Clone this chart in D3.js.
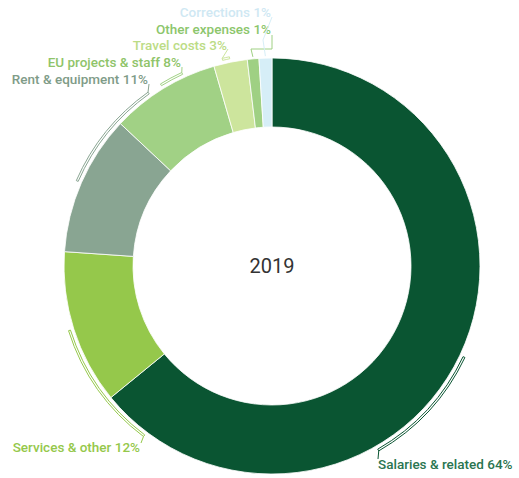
<!DOCTYPE html>
<html>
<head>
  <meta charset="UTF-8">
  <title>2019 budget donut</title>
  <script src="https://d3js.org/d3.v7.min.js"></script>
  <style>
    body { margin: 0; background: #fff; }
    svg text { font-family: Roboto, "Open Sans", sans-serif; }
  </style>
</head>
<body>
<svg id="chart"></svg>
<script>
  // data
  const categories = ["Salaries & related", "Services & other", "Rent & equipment",
                      "EU projects & staff", "Travel costs", "Other expenses", "Corrections"];
  const values = [64.1, 12.0, 10.9, 8.5, 2.6, 0.9, 1.0];
  const labelPct = ["64%", "12%", "11%", "8%", "3%", "1%", "1%"];
  const colors = ["#0a5532", "#95c84b", "#89a592", "#a1d185", "#cde59d", "#9fd083", "#d6eef7"];
  const textColors = ["#2a7550", "#95c84b", "#7f9c88", "#8fc46a", "#bcdc86", "#8cc66c", "#cfe8f3"];
  const yearLabel = "2019";

  // label layout (position of text end + where the bracket stops)
  const labelX = [378, 140, 148, 181, 227, 271, 271];
  const labelY = [464, 447, 79, 62, 45, 29, 12];
  const labelAnchor = ["start", "end", "end", "end", "end", "end", "end"];
  const bracketEnd = [150, 217, 324.5, 335, 346.5, null, null]; // degrees
  const leaderPts = [
    [[378, 459]],
    [[141, 443]],
    [[149, 84]],
    [[182, 67]],
    [[228, 49]],
    [[251, 49], [272, 49], [272, 35]],
    [[263, 40], [272, 17]]
  ];

  const width = 519, height = 478,
      cx = 272, cy = 266,
      outerR = 208, innerR = 139;

  const svg = d3.select("#chart")
      .attr("width", width)
      .attr("height", height);

  const g = svg.append("g").attr("transform", `translate(${cx},${cy})`);

  const pie = d3.pie().sort(null).value(d => d)(values);
  const arc = d3.arc().innerRadius(innerR).outerRadius(outerR);

  g.selectAll("path.slice")
    .data(pie)
    .enter()
    .append("path")
      .attr("class", "slice")
      .attr("d", arc)
      .attr("fill", (d, i) => colors[i])
      .attr("stroke", "#fff")
      .attr("stroke-width", 0.8);

  const rad = Math.PI / 180;
  const bandIn = outerR + 3.5, bandOut = outerR + 5.5;
  const pt = (a, r) => [r * Math.sin(a), -r * Math.cos(a)];

  pie.forEach((d, i) => {
    const mid = (d.startAngle + d.endAngle) / 2;
    const col = colors[i];
    let start;
    if (bracketEnd[i] != null) {
      const end = bracketEnd[i] * rad;
      // hollow bracket band from slice middle along the ring
      g.append("path")
        .attr("d", d3.arc().innerRadius(bandIn).outerRadius(bandOut)
          .startAngle(Math.min(mid, end)).endAngle(Math.max(mid, end))())
        .attr("fill", "none")
        .attr("stroke", col)
        .attr("stroke-width", 1);
      start = pt(end, bandOut);
    } else {
      start = pt(mid, outerR + 2);
    }
    const pts = [[start[0] + cx, start[1] + cy]].concat(leaderPts[i]);
    svg.append("path")
      .attr("d", d3.line()(pts))
      .attr("fill", "none")
      .attr("stroke", col)
      .attr("stroke-width", 1);

    svg.append("text")
      .attr("x", labelX[i])
      .attr("y", labelY[i])
      .attr("dy", "0.35em")
      .attr("text-anchor", labelAnchor[i])
      .attr("font-size", 13.5)
      .attr("font-weight", 500)
      .attr("fill", textColors[i])
      .text(categories[i] + " " + labelPct[i]);
  });

  g.append("text")
    .attr("text-anchor", "middle")
    .attr("dy", "0.35em")
    .attr("font-size", 20)
    .attr("fill", "#333")
    .text(yearLabel);
</script>
</body>
</html>
